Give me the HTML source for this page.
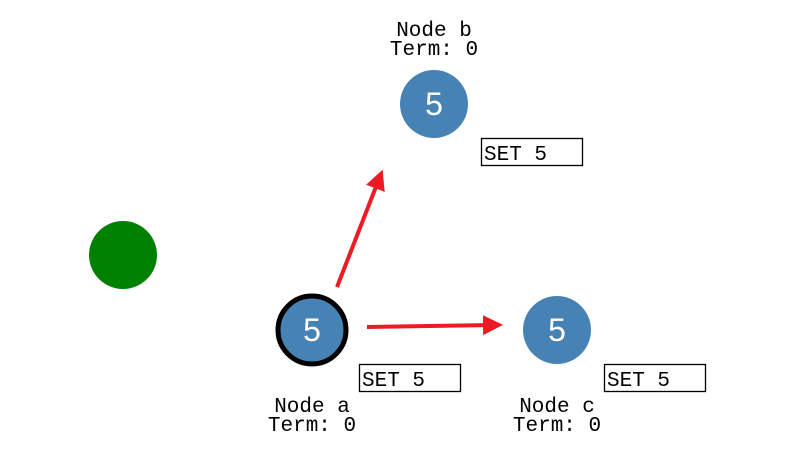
<!DOCTYPE html>
<html><head><style>body{margin:0;background:#fff}svg{display:block}</style></head><body>
<svg width="804" height="466" viewBox="0 0 804 466" xmlns="http://www.w3.org/2000/svg">
<defs><marker id="ah" markerWidth="5" markerHeight="5" refX="2.5" refY="2.5" orient="auto" markerUnits="strokeWidth"><path d="M0,0 L5,2.5 L0,5 Z" fill="#ed1c24"/></marker></defs>
<circle cx="123" cy="255" r="34" fill="#008000"/>
<circle cx="434" cy="104" r="34" fill="#4682b4"/>
<circle cx="312" cy="330" r="34" fill="#4682b4" stroke="#000" stroke-width="5"/>
<circle cx="557" cy="330" r="34" fill="#4682b4"/>
<g font-family="Liberation Sans, sans-serif" font-size="32" fill="#fff" text-anchor="middle">
<text x="434" y="115">5</text><text x="312" y="341">5</text><text x="557" y="341">5</text></g>
<line x1="337" y1="287" x2="379" y2="179" stroke="#ed1c24" stroke-width="4" marker-end="url(#ah)"/>
<line x1="367" y1="327" x2="493" y2="325" stroke="#ed1c24" stroke-width="4" marker-end="url(#ah)"/>
<g fill="#fff" stroke="#000" stroke-width="1.3">
<rect x="481.5" y="138.5" width="101" height="27"/><rect x="359.5" y="364.5" width="101" height="27"/><rect x="604.5" y="364.5" width="101" height="27"/></g>
<g font-family="Liberation Mono, monospace" font-size="21" fill="#000">
<text x="484" y="160">SET 5</text><text x="362" y="386">SET 5</text><text x="607" y="386">SET 5</text>
<g text-anchor="middle">
<text x="434" y="36">Node b</text><text x="434" y="55">Term: 0</text>
<text x="312" y="412">Node a</text><text x="312" y="431">Term: 0</text>
<text x="557" y="412">Node c</text><text x="557" y="431">Term: 0</text></g></g>
</svg></body></html>
